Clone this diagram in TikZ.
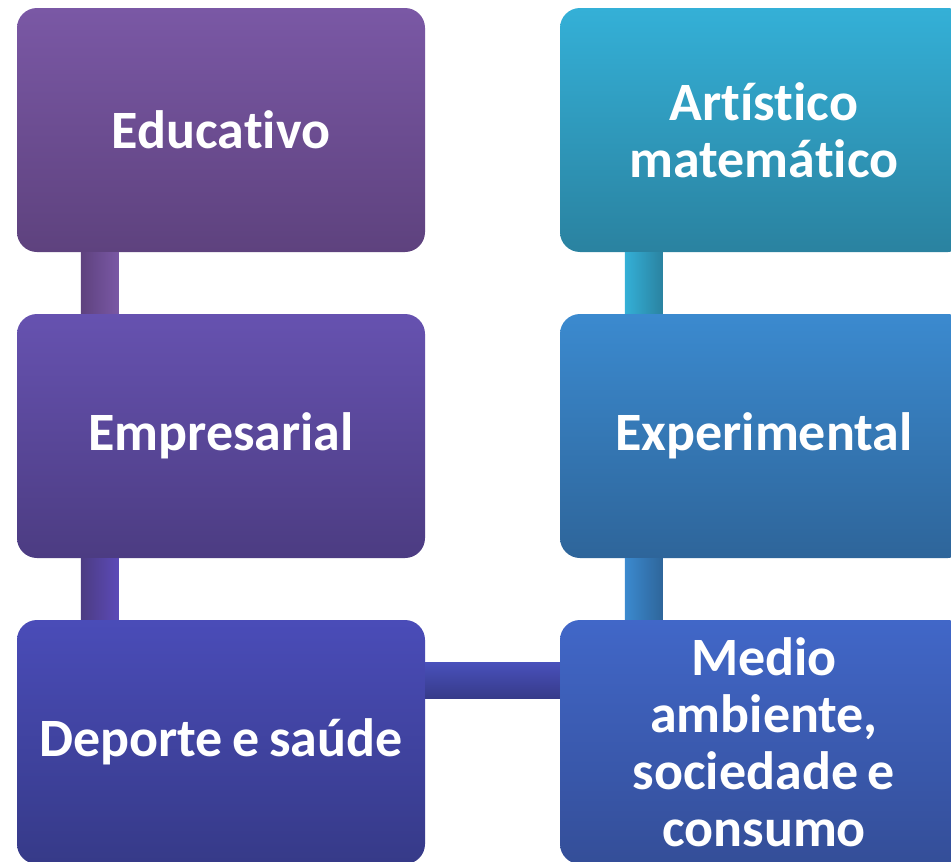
\documentclass[tikz,border=0pt]{standalone}
\usepackage{fontspec}
\setmainfont{Carlito}[RawFeature=-liga, WordSpace=0.8]
\usetikzlibrary{calc}
\definecolor{eduT}{HTML}{7A58A5}\definecolor{eduB}{HTML}{5E427E}
\definecolor{empT}{HTML}{6652B0}\definecolor{empB}{HTML}{4C3C82}
\definecolor{depT}{HTML}{4A4CB8}\definecolor{depB}{HTML}{363A88}
\definecolor{artT}{HTML}{34B0D7}\definecolor{artB}{HTML}{2A82A0}
\definecolor{expT}{HTML}{3B8ACF}\definecolor{expB}{HTML}{2E659A}
\definecolor{medT}{HTML}{4167C8}\definecolor{medB}{HTML}{344E98}
\tikzset{
  box/.style={rectangle, rounded corners=20pt, minimum width=408pt, minimum height=244pt,
    inner sep=0pt, text=white, align=center,
    font=\bfseries\fontsize{54}{57}\selectfont},
}
\begin{document}
\begin{tikzpicture}[x=1pt,y=-1pt]
\useasboundingbox (0,0) rectangle (951,862);
\clip (0,0) rectangle (951,862);
\fill[white] (0,0) rectangle (951,862);
% boxes
\node[box, top color=eduT, bottom color=eduB] (edu) at (221,130) {Educativo};
\node[box, top color=empT, bottom color=empB] (emp) at (221,436) {Empresarial};
\node[box, top color=depT, bottom color=depB] (dep) at (221,742) {Deporte e saúde};
\node[box, top color=artT, bottom color=artB] (art) at (764,130) {Artístico\\matemático};
\node[box, top color=expT, bottom color=expB] (exp) at (764,436) {Experimental};
\node[box, top color=medT, bottom color=medB] (med) at (764,742) {Medio\\ambiente,\\sociedade e\\consumo};
% connectors
\path[left color=eduB, right color=eduT] ($(edu.south west)+(64,0)$) rectangle ($(emp.north west)+(102,0)$);
\path[left color=empB, right color=empT!90!blue] ($(emp.south west)+(64,0)$) rectangle ($(dep.north west)+(102,0)$);
\path[left color=artT, right color=artB] ($(art.south west)+(65,0)$) rectangle ($(exp.north west)+(103,0)$);
\path[left color=expT, right color=expB] ($(exp.south west)+(65,0)$) rectangle ($(med.north west)+(103,0)$);
\path[top color=depT!85!medT, bottom color=depB] ($(dep.north east)+(0,43)$) rectangle ($(med.north west)+(0,79)$);
\end{tikzpicture}
\end{document}
